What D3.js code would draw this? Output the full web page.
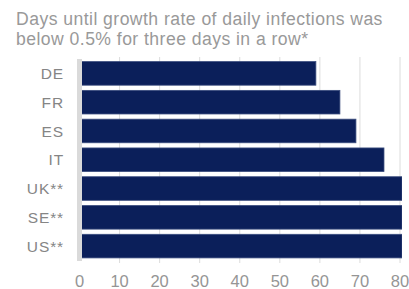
<!DOCTYPE html>
<html>
<head>
<meta charset="utf-8">
<script src="https://cdn.jsdelivr.net/npm/d3@7"></script>
<style>
  body { margin: 0; background: #fff; }
  svg { display: block; font-family: "Liberation Sans", Arial, sans-serif; }
</style>
</head>
<body>
<div id="vis"></div>
<script>
const FRAME_WIDTH = 409;
const FRAME_HEIGHT = 289;

// data
const COUNTRIES = ["DE", "FR", "ES", "IT", "UK**", "SE**", "US**"];
const DAYS = [59, 65, 69, 76, 80.5, 80.5, 80.5];
const TICKS = [0, 10, 20, 30, 40, 50, 60, 70, 80];
const TITLE_LINES = ["Days until growth rate of daily infections was",
                     "below 0.5% for three days in a row*"];

const data = COUNTRIES.map((c, i) => ({country: c, days: DAYS[i]}));

const FRAME = d3.select("#vis")
                .append("svg")
                  .attr("width", FRAME_WIDTH)
                  .attr("height", FRAME_HEIGHT);

const X_SCALE = d3.scaleLinear()
                  .domain([0, 80])
                  .range([79.5, 400]);

const Y_SCALE = d3.scaleBand()
                  .domain(COUNTRIES)
                  .range([59, 260.5])
                  .paddingInner(0.18)
                  .paddingOuter(0.09);

// title
FRAME.selectAll(".title")
     .data(TITLE_LINES)
     .enter()
     .append("text")
       .attr("x", 16)
       .attr("y", (d, i) => 25 + i * 20)
       .attr("font-size", "17.6px")
       .attr("letter-spacing", "0.45px")
       .attr("fill", "#999999")
       .text(d => d);

// vertical gridlines
FRAME.selectAll(".grid")
     .data(TICKS.slice(1))
     .enter()
     .append("line")
       .attr("x1", d => X_SCALE(d))
       .attr("x2", d => X_SCALE(d))
       .attr("y1", 57)
       .attr("y2", 263)
       .attr("stroke", "#dcdcdc")
       .attr("stroke-width", 1);

// bars, clipped at the right edge of the plot
FRAME.append("clipPath")
     .attr("id", "plot-clip")
     .append("rect")
       .attr("x", 0).attr("y", 0)
       .attr("width", 402).attr("height", FRAME_HEIGHT);

FRAME.append("g")
     .attr("clip-path", "url(#plot-clip)")
     .selectAll(".bar")
     .data(data)
     .enter()
     .append("rect")
       .attr("x", X_SCALE(0))
       .attr("y", d => Y_SCALE(d.country))
       .attr("width", d => X_SCALE(d.days) - X_SCALE(0))
       .attr("height", Y_SCALE.bandwidth())
       .attr("fill", "#0b1f5a")
       .attr("stroke", "#3b4d7e")
       .attr("stroke-width", 0.8);

// zero axis line
FRAME.append("line")
     .attr("x1", X_SCALE(0))
     .attr("x2", X_SCALE(0))
     .attr("y1", 59)
     .attr("y2", 261)
     .attr("stroke", "#dadada")
     .attr("stroke-width", 5);

// category labels
FRAME.selectAll(".cat")
     .data(COUNTRIES)
     .enter()
     .append("text")
       .attr("x", 64)
       .attr("y", d => Y_SCALE(d) + Y_SCALE.bandwidth() / 2)
       .attr("dy", "0.36em")
       .attr("text-anchor", "end")
       .attr("font-size", "15.5px")
       .attr("letter-spacing", "0.9px")
       .attr("fill", "#858585")
       .text(d => d);

// x tick labels
FRAME.selectAll(".tick-label")
     .data(TICKS)
     .enter()
     .append("text")
       .attr("x", d => X_SCALE(d))
       .attr("y", 287)
       .attr("text-anchor", "middle")
       .attr("font-size", "16.5px")
       .attr("fill", "#959595")
       .text(d => d);
</script>
</body>
</html>
